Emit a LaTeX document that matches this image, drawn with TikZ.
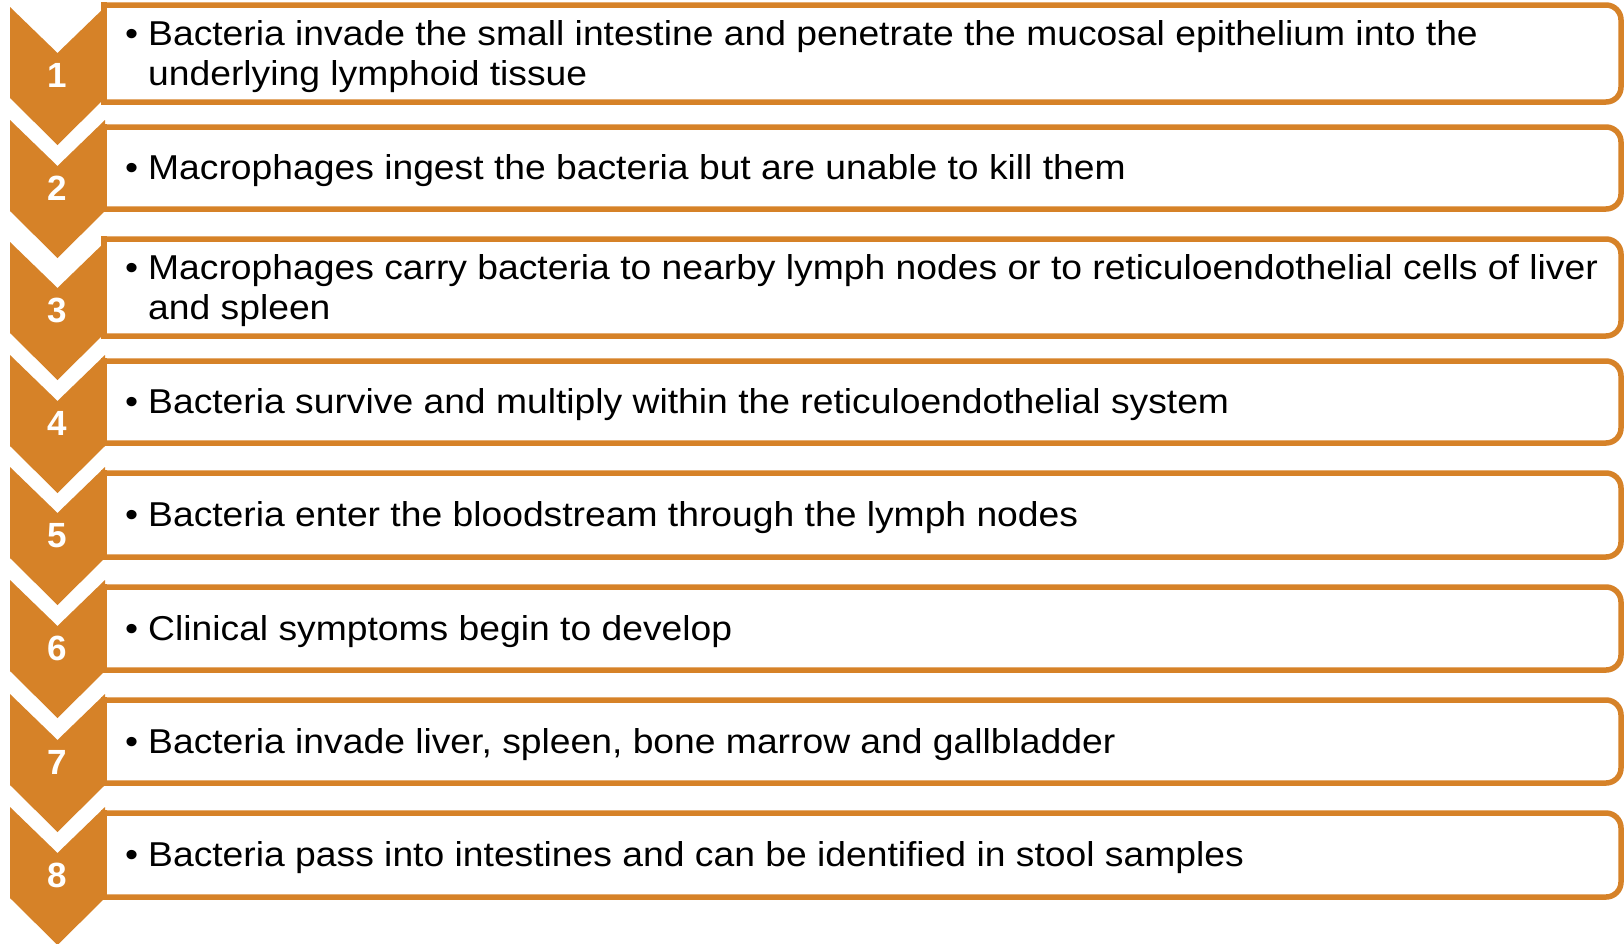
\documentclass[tikz,border=0pt]{standalone}
\usepackage{fontspec}
\setmainfont{Liberation Sans}
\newfontfamily\itemfont{Liberation Sans}[FakeStretch=1.08]
\definecolor{chev}{RGB}{214,130,40}
\begin{document}
\begin{tikzpicture}[x=1pt,y=-1pt,
  chevshape/.style={fill=chev,draw=none},
  boxline/.style={draw=chev,line width=5.5pt,line cap=rect,rounded corners=15pt},
  boxside/.style={draw=chev,line width=5.5pt,line cap=rect},
  numlabel/.style={text=white,inner sep=0pt,font=\fontsize{35}{38}\selectfont\bfseries},
  itemtext/.style={anchor=west,inner sep=0pt,align=left,font=\itemfont\fontsize{34.5}{39.5}\selectfont}]
\useasboundingbox (0,0) rectangle (1624,943);
\fill[white] (0,0) rectangle (1624,943);
\newcommand{\bul}{\makebox[23pt][l]{•}}
\newcommand{\ind}{\makebox[23pt][l]{}}
% chevrons: top y, number
\foreach \t/\n in {7/1,120/2,242/3,355/4,467/5,580/6,694/7,807/8}{
  \path[chevshape] (10,\t) -- (57.5,\t+46) -- (105,\t) -- (105,\t+91) -- (57.5,\t+138) -- (10,\t+91) -- cycle;
  \node[numlabel] (num\n) at (57.5,\t+68.5) {\n};
}
% boxes: top, bottom, index
\foreach \a/\b/\n in {5/102/1,127/209/2,239/336/3,361/443/4,473/557/5,587/670/6,700/783/7,813/897/8}{
  \draw[boxline] (104,\a) -- (1621,\a) -- (1621,\b) -- (104,\b);
  \draw[boxside] (104,\b) -- (104,\a);
  \coordinate (c\n) at (125,{(\a+\b)/2+3});
}
\node[itemtext] (t1) at (c1) {\bul Bacteria invade the small intestine and penetrate the mucosal epithelium into the\\\ind underlying lymphoid tissue};
\node[itemtext] (t2) at (c2) {\bul Macrophages ingest the bacteria but are unable to kill them};
\node[itemtext] (t3) at (c3) {\bul Macrophages carry bacteria to nearby lymph nodes or to reticuloendothelial cells of liver\\\ind and spleen};
\node[itemtext] (t4) at (c4) {\bul Bacteria survive and multiply within the reticuloendothelial system};
\node[itemtext] (t5) at (c5) {\bul Bacteria enter the bloodstream through the lymph nodes};
\node[itemtext] (t6) at (c6) {\bul Clinical symptoms begin to develop};
\node[itemtext] (t7) at (c7) {\bul Bacteria invade liver, spleen, bone marrow and gallbladder};
\node[itemtext] (t8) at (c8) {\bul Bacteria pass into intestines and can be identified in stool samples};
\end{tikzpicture}
\end{document}
